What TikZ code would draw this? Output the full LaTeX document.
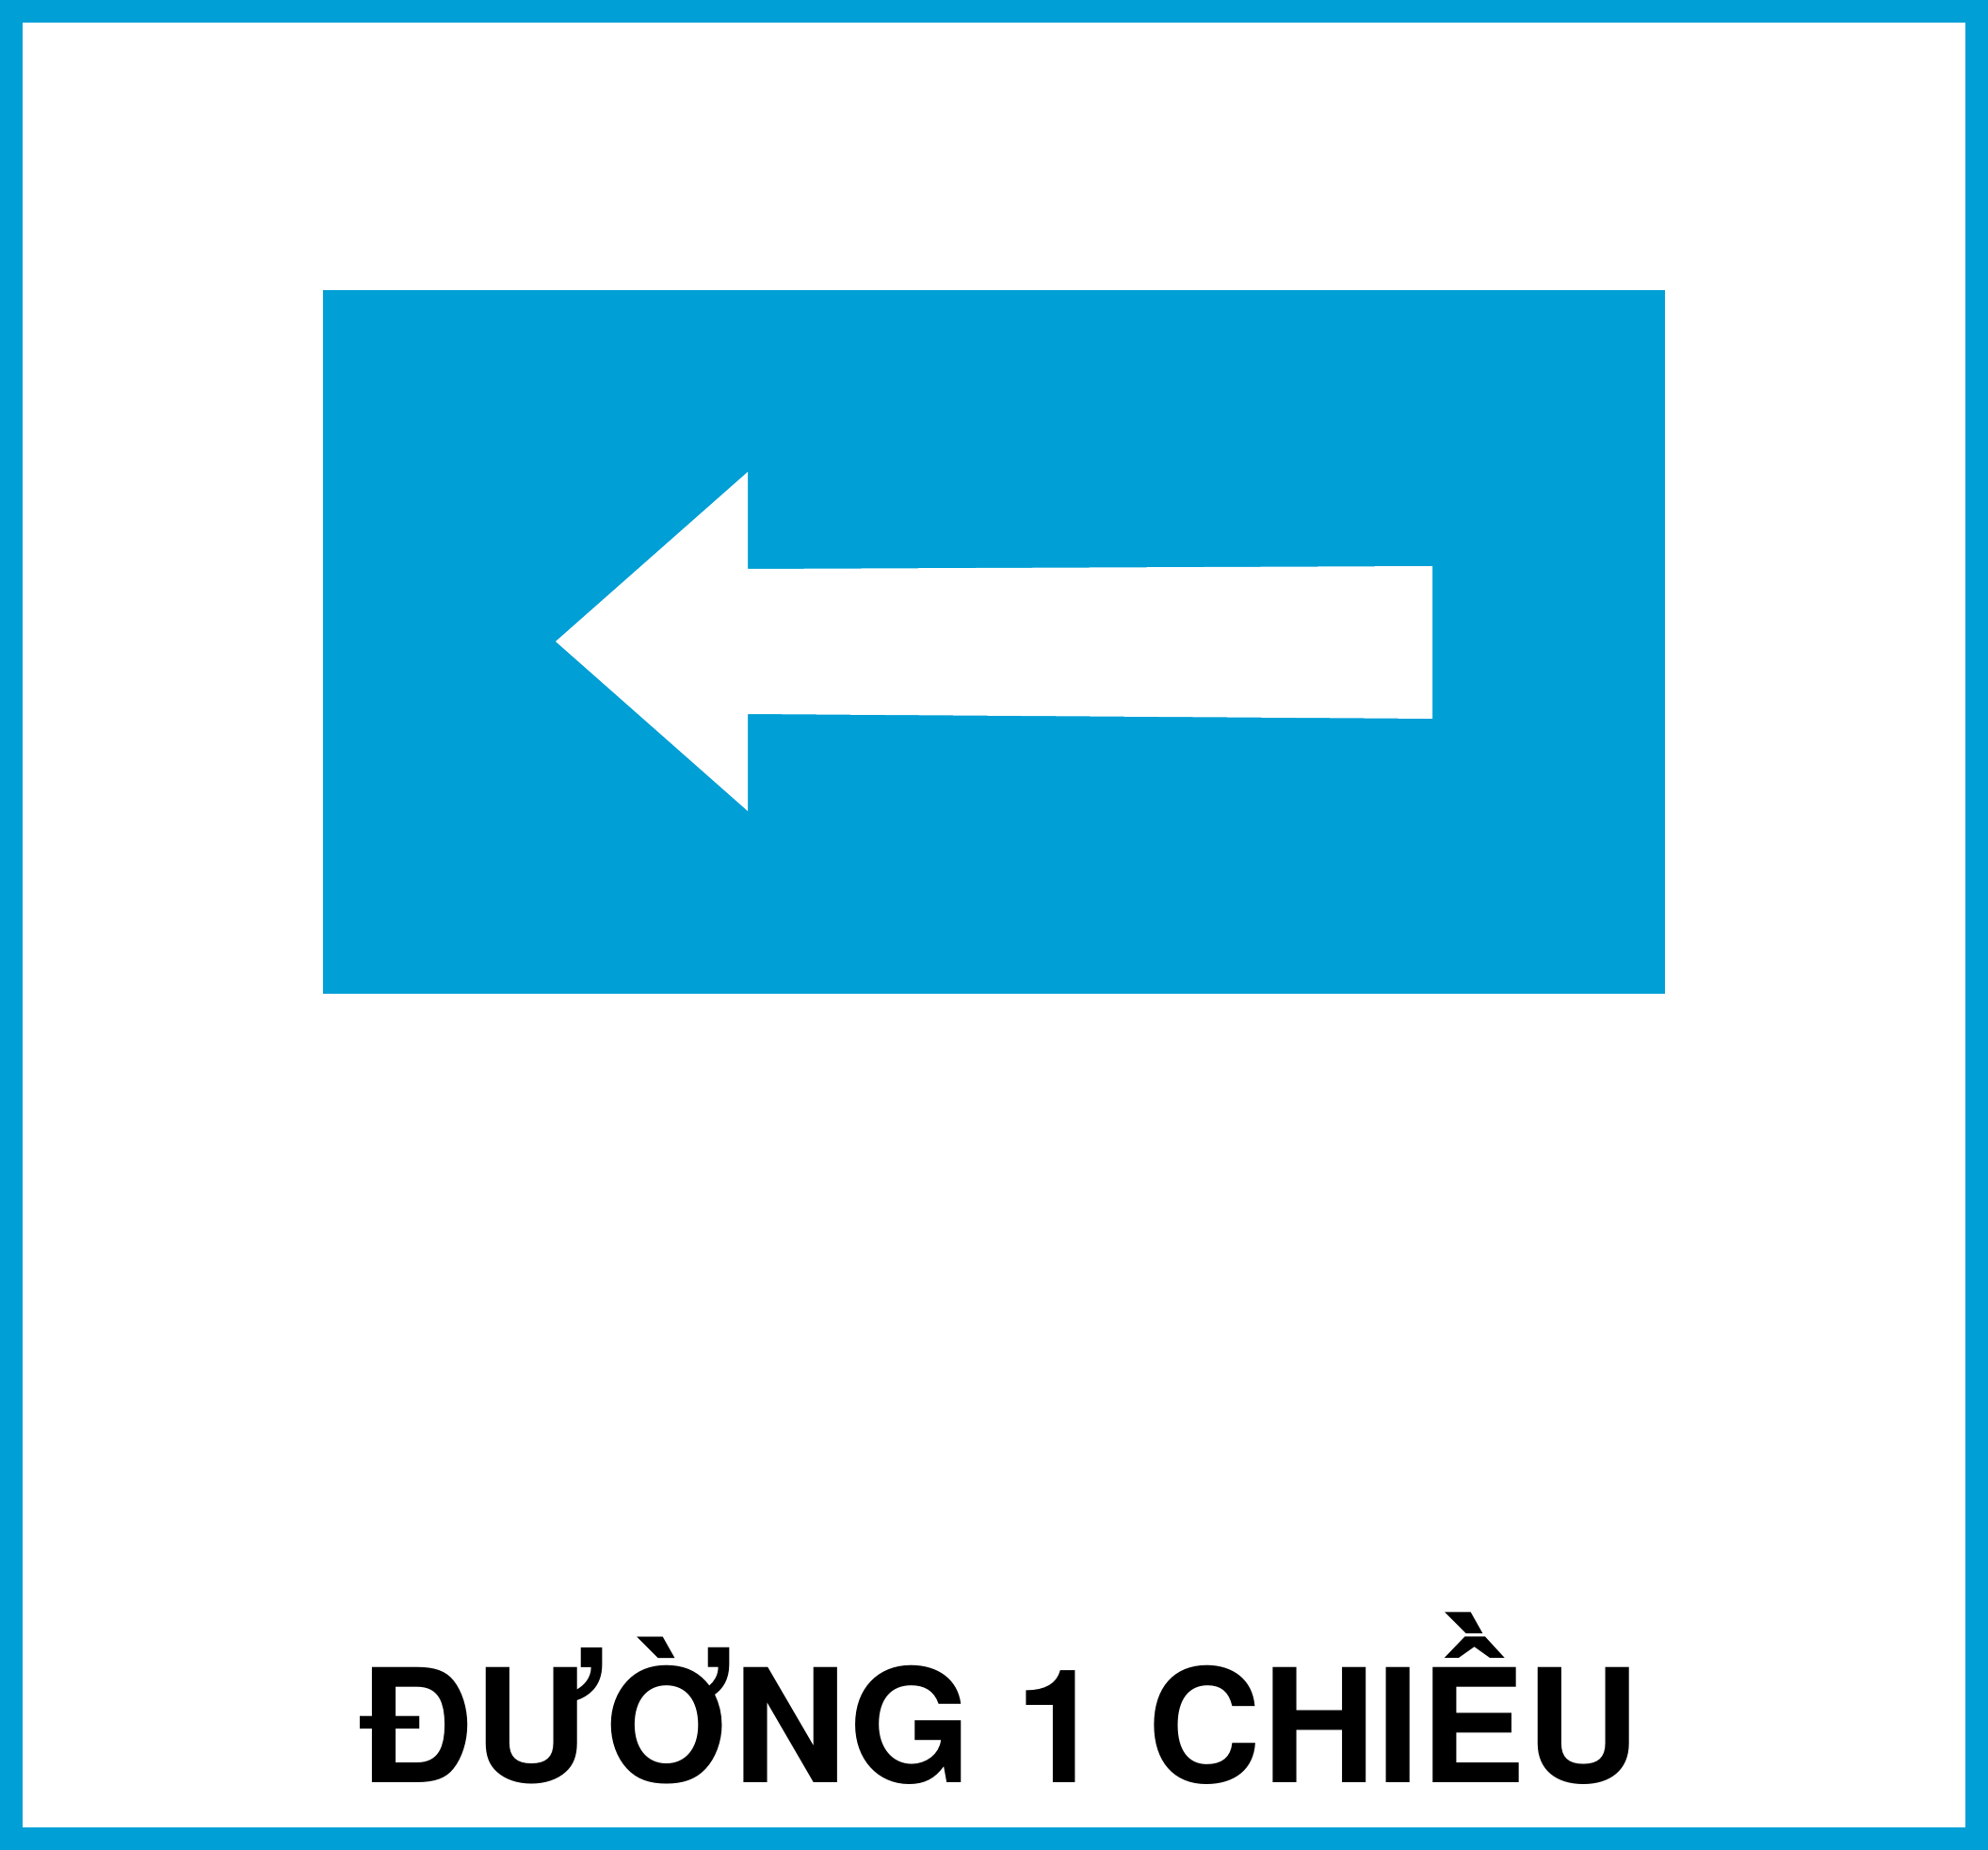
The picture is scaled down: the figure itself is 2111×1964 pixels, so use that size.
\documentclass[tikz,border=0pt]{standalone}
\usepackage{fontspec}
\setmainfont{TeX Gyre Heros}
\usepackage{tikz}
\definecolor{signblue}{RGB}{0,159,214}

\begin{document}
\begin{tikzpicture}[x=0.01cm,y=-0.01cm]
		\useasboundingbox (0,0) rectangle (2111,1964);
		% The frame
		\coordinate (ooo) at (0,0);
		\coordinate (xyo) at (2111,1964);
		\coordinate (fin) at (24,24);
		\coordinate (fout) at (2087,1940);
		\fill[color=signblue] (ooo) rectangle (xyo);
		\fill[color=white] (fin) rectangle (fout);
		
		% The panel
		\coordinate (pnw) at (343,308);
		\coordinate (pse) at (1768,1055);
		\fill[color=signblue] (pnw) rectangle (pse);
		
		% The arrow
		\coordinate (tip) at (590,681);
		\coordinate (htop) at (794,501);
		\coordinate (hbot) at (794,861);
		\coordinate (stl) at (794,604);
		\coordinate (str) at (1521,601);
		\coordinate (sbr) at (1521,763);
		\coordinate (sbl) at (794,758);
		\fill[color=white] (tip) -- (htop) -- (stl) -- (str) -- (sbr) -- (sbl) -- (hbot) -- cycle;
		
		% The caption
		\node[anchor=base,inner sep=0pt,font=\bfseries\fontsize{47.7}{50}\selectfont] (caption) at (1062,1892) {ĐƯỜNG 1 CHIỀU};
	\end{tikzpicture}
\end{document}
